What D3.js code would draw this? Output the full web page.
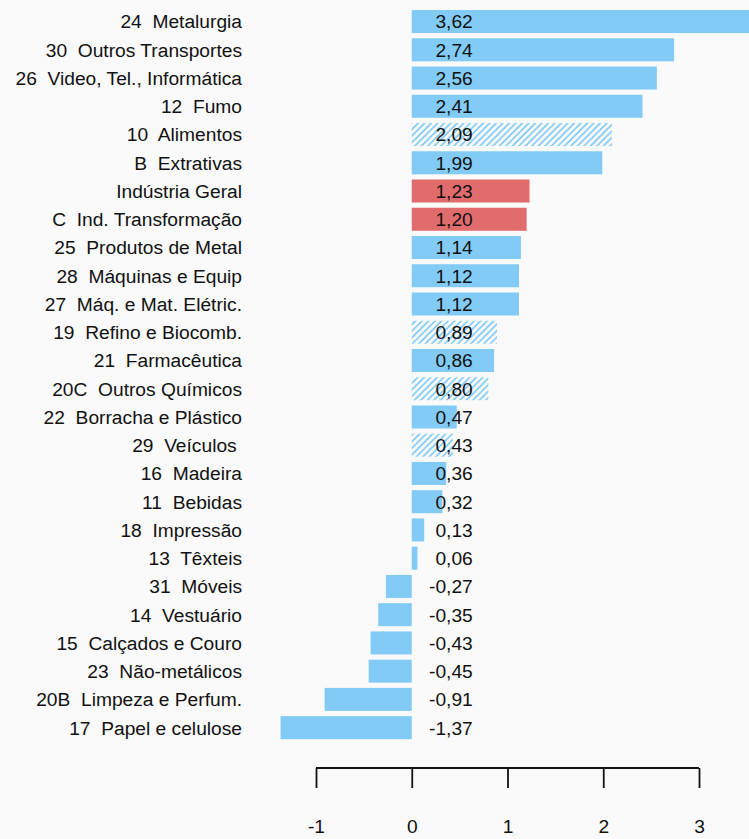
<!DOCTYPE html>
<html>
<head>
<meta charset="utf-8">
<script src="https://cdn.jsdelivr.net/npm/d3@7"></script>
<style>
  body { margin: 0; background: #fafafa; }
  svg { display: block; font-family: "Liberation Sans", Arial, sans-serif; }
</style>
</head>
<body>
<div id="chart"></div>
<script>
// categories, top to bottom
var sectors = [
  "24  Metalurgia", "30  Outros Transportes", "26  Video, Tel., Informática",
  "12  Fumo", "10  Alimentos", "B  Extrativas", "Indústria Geral",
  "C  Ind. Transformação", "25  Produtos de Metal", "28  Máquinas e Equip",
  "27  Máq. e Mat. Elétric.", "19  Refino e Biocomb.", "21  Farmacêutica",
  "20C  Outros Químicos", "22  Borracha e Plástico", "29  Veículos ",
  "16  Madeira", "11  Bebidas", "18  Impressão", "13  Têxteis",
  "31  Móveis", "14  Vestuário", "15  Calçados e Couro", "23  Não-metálicos",
  "20B  Limpeza e Perfum.", "17  Papel e celulose"
];

var values = [
  3.62, 2.74, 2.56, 2.41, 2.09, 1.99, 1.23, 1.20, 1.14, 1.12, 1.12, 0.89, 0.86,
  0.80, 0.47, 0.43, 0.36, 0.32, 0.13, 0.06, -0.27, -0.35, -0.43, -0.45, -0.91, -1.37
];

// bar style: "solid", "hatch" or "total"
var kinds = [
  "solid", "solid", "solid", "solid", "hatch", "solid", "total", "total", "solid",
  "solid", "solid", "hatch", "solid", "hatch", "solid", "hatch", "solid", "solid",
  "solid", "solid", "solid", "solid", "solid", "solid", "solid", "solid"
];

var xTicks = [-1, 0, 1, 2, 3];

var data = sectors.map(function (s, i) {
  return { name: s, value: values[i], kind: kinds[i] };
});

var svgWidth = 749;
var svgHeight = 839;
var fontSize = "19.2px";

var svg = d3.select("#chart")
  .append("svg")
  .attr("width", svgWidth)
  .attr("height", svgHeight);

svg.append("rect")
  .attr("width", svgWidth)
  .attr("height", svgHeight)
  .attr("fill", "#fafafa");

var blue = "#82cbf6";
var red = "#e06c6e";

// hatch pattern
var defs = svg.append("defs");
defs.append("pattern")
  .attr("id", "hatch")
  .attr("patternUnits", "userSpaceOnUse")
  .attr("width", 4.6)
  .attr("height", 4.6)
  .attr("patternTransform", "rotate(45)")
  .append("line")
  .attr("x1", 1).attr("y1", 0)
  .attr("x2", 1).attr("y2", 4.6)
  .attr("stroke", blue)
  .attr("stroke-width", 1.7);

// scales
var xScale = d3.scaleLinear()
  .domain([-1, 3])
  .range([316, 699]);

var yScale = d3.scaleBand()
  .domain(sectors)
  .range([7.5, 741.7])
  .paddingInner(0.185)
  .paddingOuter(0.09);

// bars
svg.selectAll("rect.bar")
  .data(data)
  .enter()
  .append("rect")
  .attr("class", "bar")
  .attr("x", d => xScale(Math.min(0, d.value)))
  .attr("y", d => yScale(d.name))
  .attr("width", d => Math.abs(xScale(d.value) - xScale(0)))
  .attr("height", yScale.bandwidth())
  .attr("fill", function (d) {
    if (d.kind == "hatch") return "url(#hatch)";
    if (d.kind == "total") return red;
    return blue;
  });

// value labels
svg.selectAll("text.val")
  .data(data)
  .enter()
  .append("text")
  .attr("class", "val")
  .attr("x", xScale(0) + 61)
  .attr("y", d => yScale(d.name) + yScale.bandwidth() / 2)
  .attr("dy", "0.36em")
  .attr("text-anchor", "end")
  .style("font-size", fontSize)
  .style("fill", "#111")
  .text(d => d.value.toFixed(2).replace(".", ","));

// category labels
svg.selectAll("text.cat")
  .data(data)
  .enter()
  .append("text")
  .attr("class", "cat")
  .attr("x", 242)
  .attr("y", d => yScale(d.name) + yScale.bandwidth() / 2)
  .attr("dy", "0.36em")
  .attr("text-anchor", "end")
  .style("font-size", fontSize)
  .style("white-space", "pre")
  .style("fill", "#111")
  .text(d => d.name);

// x axis, R style
var bottomAxis = d3.axisBottom(xScale)
  .tickValues(xTicks)
  .tickSize(20)
  .tickSizeOuter(0)
  .tickPadding(31)
  .tickFormat(d3.format("d"));

var axisG = svg.append("g")
  .attr("transform", "translate(0, 768)")
  .call(bottomAxis);

axisG.select(".domain")
  .attr("d", `M${xScale(-1)},0H${xScale(3)}`)
  .attr("stroke", "#111")
  .attr("stroke-width", 1.8);

axisG.selectAll(".tick line")
  .attr("stroke", "#111")
  .attr("stroke-width", 1.8);

axisG.selectAll(".tick text")
  .style("font-size", fontSize)
  .style("font-family", "'Liberation Sans', Arial, sans-serif")
  .style("fill", "#111")
  .attr("dy", "0.71em")
  .text(d => d < 0 ? "-" + Math.abs(d) : d);
</script>
</body>
</html>
